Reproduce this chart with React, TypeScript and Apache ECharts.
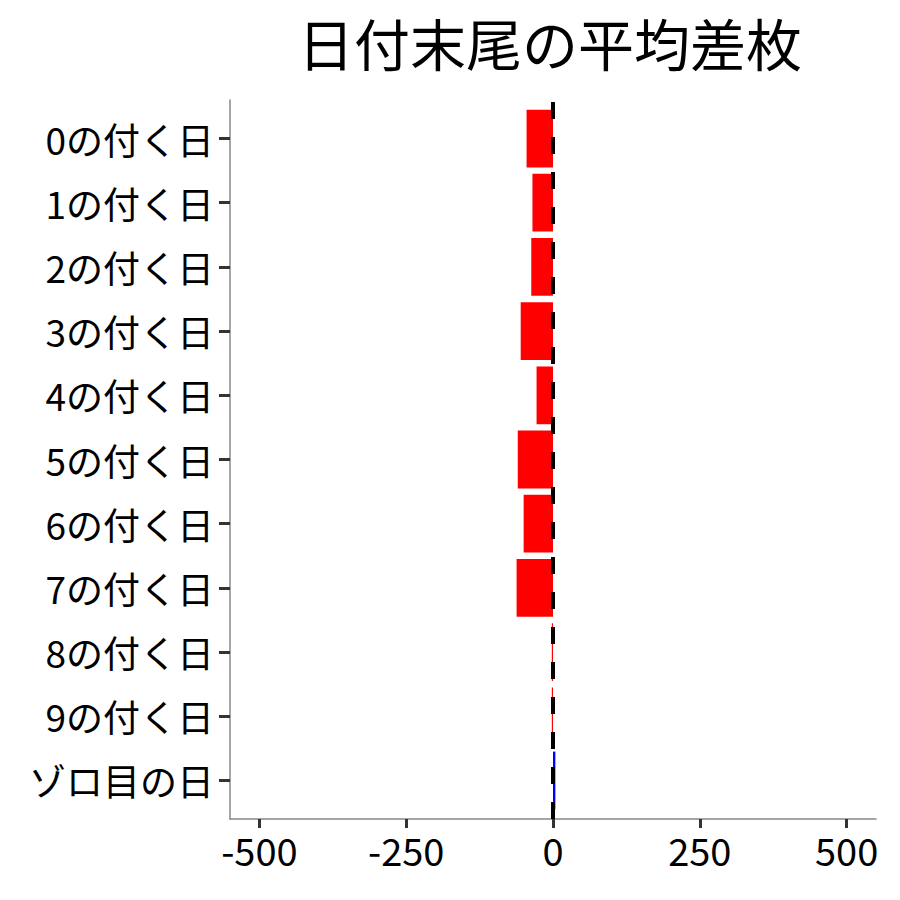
import React, { useEffect, useRef } from "react";
import * as echarts from "echarts";

const TITLE = "日付末尾の平均差枚";
const categories = [
  "0の付く日",
  "1の付く日",
  "2の付く日",
  "3の付く日",
  "4の付く日",
  "5の付く日",
  "6の付く日",
  "7の付く日",
  "8の付く日",
  "9の付く日",
  "ゾロ目の日",
];
const values = [-45, -35, -37, -55, -28, -60, -50, -62, -2, -2, 4];
const xTicks = [-500, -250, 0, 250, 500];
const X_MIN = -550;
const X_MAX = 550;
const NEG_COLOR = "#FF0000";
const POS_COLOR = "#0000FF";

const FONT = '"Noto Sans CJK JP", "Noto Sans", sans-serif';

export default function App() {
  const ref = useRef<HTMLDivElement>(null);
  useEffect(() => {
    if (!ref.current) return;
    const chart = echarts.init(ref.current, null, { renderer: "svg" });
    const gridLeft = 230;
    const gridRight = 24;
    const gridTop = 100;
    const gridBottom = 81;
    const plotH = 900 - gridTop - gridBottom;
    const unit = plotH / (categories.length - 1 + 1.2);
    const inset = unit * 0.1;
    chart.setOption({
      animation: false,
      backgroundColor: "#ffffff",
      textStyle: { fontFamily: FONT },
      title: {
        text: TITLE,
        left: gridLeft + (900 - gridLeft - gridRight) / 2 - 8,
        textAlign: "center",
        top: 8,
        textStyle: { fontFamily: FONT, fontSize: 56, fontWeight: "normal", color: "#000" },
      },
      grid: [
        { left: gridLeft, right: gridRight, top: gridTop, bottom: gridBottom },
        { left: gridLeft, right: gridRight, top: gridTop + inset, bottom: gridBottom + inset },
      ],
      xAxis: [
        {
          type: "value",
          gridIndex: 0,
          min: X_MIN,
          max: X_MAX,
          splitLine: { show: false },
          axisLine: { show: true, onZero: false, lineStyle: { color: "#888888", width: 1.5 } },
          axisTick: {
            show: true,
            length: 9,
            lineStyle: { color: "#333333", width: 3 },
            customValues: xTicks,
          },
          axisLabel: {
            customValues: xTicks,
            fontSize: 38,
            color: "#000",
            margin: 11,
            fontFamily: FONT,
          },
        },
        {
          type: "value",
          gridIndex: 1,
          min: X_MIN,
          max: X_MAX,
          show: false,
          splitLine: { show: false },
        },
      ],
      yAxis: [
        {
          type: "value",
          gridIndex: 0,
          min: 0,
          max: 1,
          splitLine: { show: false },
          axisLine: { show: true, onZero: false, lineStyle: { color: "#888888", width: 1.5 } },
          axisTick: { show: false },
          axisLabel: { show: false },
        },
        {
          type: "category",
          gridIndex: 1,
          data: categories,
          inverse: true,
          axisLine: { show: false, onZero: false },
          axisTick: {
            show: true,
            alignWithLabel: true,
            length: 11,
            lineStyle: { color: "#333333", width: 3 },
          },
          axisLabel: {
            fontSize: 37,
            color: "#000",
            margin: 16,
            fontFamily: FONT,
          },
        },
      ],
      series: [
        {
          type: "bar",
          xAxisIndex: 1,
          yAxisIndex: 1,
          barCategoryGap: "10%",
          data: values.map((v) => ({
            value: v,
            itemStyle: { color: v < 0 ? NEG_COLOR : POS_COLOR },
          })),
          z: 2,
        },
        {
          type: "line",
          xAxisIndex: 0,
          yAxisIndex: 0,
          data: [],
          z: 5,
          markLine: {
            silent: true,
            symbol: "none",
            label: { show: false },
            lineStyle: { color: "#000000", width: 4, type: [17, 18] },
            data: [{ xAxis: 0 }],
            z: 5,
          },
        },
      ],
    });
    return () => chart.dispose();
  }, []);
  return (
    <div
      ref={ref}
      style={{ position: "absolute", left: 0, top: 0, width: 900, height: 900 }}
    />
  );
}
